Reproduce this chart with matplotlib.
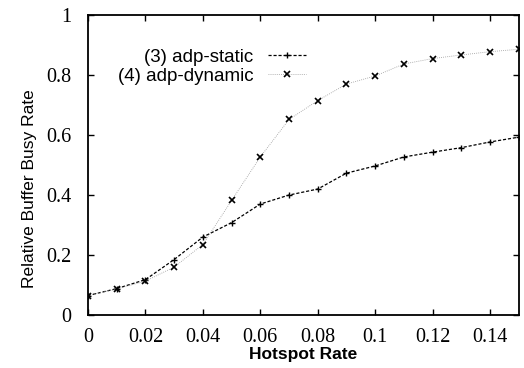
import matplotlib
matplotlib.use("Agg")
import matplotlib.pyplot as plt

# Data
hotspot_rate = [0.0, 0.01, 0.02, 0.03, 0.04, 0.05, 0.06, 0.07, 0.08,
                0.09, 0.10, 0.11, 0.12, 0.13, 0.14, 0.15]
adp_static = [0.065, 0.088, 0.118, 0.185, 0.26, 0.308, 0.37, 0.40, 0.42,
              0.473, 0.497, 0.527, 0.543, 0.558, 0.577, 0.593]
adp_dynamic = [0.065, 0.087, 0.113, 0.16, 0.235, 0.382, 0.527, 0.652, 0.715,
               0.77, 0.797, 0.837, 0.855, 0.867, 0.878, 0.886]

x_ticks = [0, 0.02, 0.04, 0.06, 0.08, 0.1, 0.12, 0.14]
x_tick_labels = ["0", "0.02", "0.04", "0.06", "0.08", "0.1", "0.12", "0.14"]
y_ticks = [0, 0.2, 0.4, 0.6, 0.8, 1.0]
y_tick_labels = ["0", "0.2", "0.4", "0.6", "0.8", "1"]

fig = plt.figure(figsize=(5.24, 3.68), dpi=100)
ax = fig.add_axes([0.168, 0.144, 0.822, 0.815])

ax.plot(hotspot_rate, adp_static, color="black", linestyle=(0, (2.5, 1.5)),
        linewidth=0.9, marker="+", markersize=4, markeredgewidth=1.0,
        label="(3) adp-static")
ax.plot(hotspot_rate, adp_dynamic, color="#999999", linestyle=(0, (1, 1.5)),
        linewidth=0.6, marker="x", markersize=4, markeredgewidth=1.2,
        markeredgecolor="black", label="(4) adp-dynamic")

ax.set_xlim(0, 0.15)
ax.set_ylim(0, 1)
ax.set_xticks(x_ticks)
ax.set_xticklabels(x_tick_labels, family="Liberation Serif", fontsize=14.5)
ax.set_yticks(y_ticks)
ax.set_yticklabels(y_tick_labels, family="Liberation Serif", fontsize=14.5)
ax.tick_params(axis="x", direction="in", top=True, length=4, width=1, pad=9)
ax.tick_params(axis="y", direction="in", right=True, length=4, width=1,
               pad=12)

for spine in ax.spines.values():
    spine.set_linewidth(1.3)

ax.set_xlabel("Hotspot Rate", family="Liberation Sans", fontweight="bold",
              fontsize=12.5, labelpad=0)
ax.set_ylabel("Relative Buffer Busy Rate", family="Liberation Sans",
              fontsize=12.5)
ax.yaxis.set_label_coords(-0.118, 0.42)

ax.legend(loc="upper left", bbox_to_anchor=(0.03, 0.945), frameon=False,
          markerfirst=False, handlelength=2.0, handletextpad=0.8,
          labelspacing=0.1,
          prop={"family": "Liberation Sans", "size": 13.5})

plt.savefig("out.png", dpi=100)
plt.close()
